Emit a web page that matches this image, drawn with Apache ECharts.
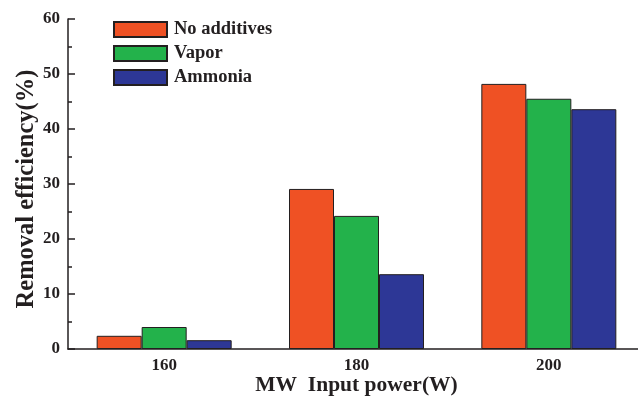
<!DOCTYPE html>
<html><head><meta charset="utf-8">
<script src="https://cdn.jsdelivr.net/npm/echarts@6/dist/echarts.min.js"></script>
<style>html,body{margin:0;padding:0;background:#fff}#c{width:638px;height:403px}</style>
</head><body><div id="c"></div>
<script>
const categories = ['160', '180', '200'];
const noAdditives = [2.4, 29.1, 48.2];
const vapor = [4.0, 24.2, 45.5];
const ammonia = [1.6, 13.6, 43.6];
const seriesNames = ['No additives', 'Vapor', 'Ammonia'];
const colors = ['#EF5124', '#23B24B', '#2D3796'];

const FONT = 'Liberation Serif';
const axisColor = '#231F20';
const chart = echarts.init(document.getElementById('c'));
const mk = (name, data, color) => ({
  name, type: 'bar', data, xAxisIndex: 0, barWidth: 45, barGap: '0%',
  itemStyle: { color, borderColor: axisColor, borderWidth: 1 }
});
chart.setOption({
  animation: false,
  textStyle: { fontFamily: FONT },
  grid: { left: 68, top: 19, width: 577, height: 330, containLabel: false, outerBoundsMode: 'none' },
  legend: {
    orient: 'vertical', left: 113, top: 20, itemWidth: 53, itemHeight: 15, itemGap: 5,
    padding: 0, icon: 'rect',
    textStyle: { fontFamily: FONT, fontWeight: 'bold', fontSize: 18.5, color: '#231F20', padding: [0, 0, 0, 2] },
    data: seriesNames
  },
  xAxis: [{
    type: 'category', data: categories,
    name: 'MW  Input power(W)', nameLocation: 'middle', nameGap: 25, nameMoveOverlap: false,
    nameTextStyle: { fontFamily: FONT, fontWeight: 'bold', fontSize: 21.5, color: '#231F20' },
    axisLine: { lineStyle: { color: axisColor, width: 1.5 } },
    axisTick: { alignWithLabel: true, inside: true, length: 6, lineStyle: { color: axisColor, width: 1.5 } },
    axisLabel: { fontFamily: FONT, fontWeight: 'bold', fontSize: 17, color: '#231F20', margin: 8 },
    splitLine: { show: false }
  }, {
    type: 'category', data: categories, position: 'bottom',
    axisLine: { show: false },
    axisTick: { inside: true, length: 3, lineStyle: { color: axisColor, width: 1.5 } },
    axisLabel: { show: false }, splitLine: { show: false }
  }],
  yAxis: {
    type: 'value', min: 0, max: 60, interval: 10,
    name: 'Removal efficiency(%)', nameLocation: 'middle', nameGap: 29, nameRotate: 90, nameMoveOverlap: false,
    nameTextStyle: { fontFamily: FONT, fontWeight: 'bold', fontSize: 24.5, color: '#231F20', padding: [0, 10, 0, 0] },
    axisLine: { show: true, lineStyle: { color: axisColor, width: 1.5 } },
    axisTick: { show: true, inside: true, length: 7, lineStyle: { color: axisColor, width: 1.5 } },
    minorTick: { show: true, splitNumber: 2, length: 4, lineStyle: { color: axisColor, width: 1.5 } },
    axisLabel: { fontFamily: FONT, fontWeight: 'bold', fontSize: 17, color: '#231F20', margin: 8 },
    splitLine: { show: false }
  },
  series: [mk(seriesNames[0], noAdditives, colors[0]), mk(seriesNames[1], vapor, colors[1]), mk(seriesNames[2], ammonia, colors[2])]
});
</script></body></html>
